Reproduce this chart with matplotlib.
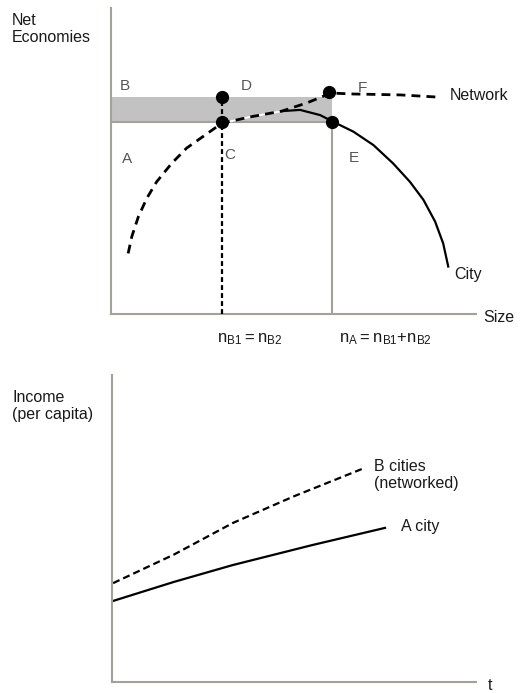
# two schematic panels: net economies vs size, income vs time
import numpy as np
import matplotlib.pyplot as plt

plt.rcParams['font.family'] = ['Liberation Sans', 'DejaVu Sans']

W, H = 529, 693

# top panel (size / net economies, 0..100 units)
network_x = [4.7, 5.7, 7.5, 9.8, 12.5, 16.6, 20.7, 25.8, 30.3, 38.1, 46.8, 53.7, 60.3, 66.3, 79.2, 89.3]
network_y = [19.8, 25.3, 31.8, 37.8, 43.2, 49.2, 54.2, 58.5, 62.3, 64.4, 66.3, 69.0, 72.2, 71.9, 71.6, 70.9]
city_x = [46.8, 51.8, 57.3, 60.9, 66.4, 71.9, 77.3, 81.9, 85.6, 88.8, 91.0, 92.4]
city_y = [66.3, 66.7, 65.0, 62.8, 59.6, 55.2, 49.2, 43.2, 37.3, 30.2, 23.1, 15.5]
n_b = 30.3
n_a = 60.5
level_city = 62.8
level_net = 70.9
points_x = [n_b, n_b, 59.8, n_a]
points_y = [level_net, level_city, 72.4, level_city]

# bottom panel (t / income, 0..100 units)
b_t = [0.3, 17.0, 33.2, 50.0, 68.7]
b_inc = [32.2, 41.5, 51.8, 60.5, 69.4]
a_t = [0.3, 17.0, 33.2, 55.0, 75.0]
a_inc = [26.4, 32.6, 38.1, 44.6, 50.2]

axis_col = '#a4a298'
fs = 11.5

fig = plt.figure(figsize=(W / 100, H / 100), dpi=100)


def px_axes(x0, y0, x1, y1):
    return fig.add_axes([x0 / W, 1 - y1 / H, (x1 - x0) / W, (y1 - y0) / H])


def ftext(x, y, s, size=fs, **kw):
    fig.text(x / W, 1 - y / H, s, fontsize=size, color='#1a1a1a', **kw)


# ---- top panel
ax = px_axes(111, 8, 476, 314)
ax.set_xlim(0, 100)
ax.set_ylim(0, 100)
ax.fill_between([0, n_a], level_city, level_net, color='#c2c2c2', lw=0, zorder=1)
ax.plot([0, n_a], [level_city, level_city], color=axis_col, lw=1.5, zorder=2)
ax.plot([n_a, n_a], [0, level_city], color=axis_col, lw=1.5, zorder=2)
ax.plot([n_b, n_b], [0, level_net], color='black', lw=1.6, ls=(0, (2.2, 1.4)), zorder=3)
ax.plot(network_x[:11], network_y[:11], color='white', lw=1.4, zorder=3)
ax.plot(network_x, network_y, color='black', lw=2, ls=(0, (3.2, 2.2)), zorder=4)
ax.plot(city_x, city_y, color='black', lw=1.6, zorder=4)
ax.plot(points_x, points_y, 'o', color='black', ms=8.5, zorder=5)

for s, x, y in [('B', 2.5, 74.5), ('D', 35.5, 74.5), ('F', 67.5, 73.8),
                ('A', 3.0, 50.5), ('C', 31.0, 52.0), ('E', 65.0, 51.0)]:
    ax.text(x, y, s, fontsize=11, color='#555555', va='center')

ax.text(92.8, 71.5, 'Network', fontsize=fs, color='#1a1a1a', va='center')
ax.text(94.0, 13.0, 'City', fontsize=fs, color='#1a1a1a', va='center')

for side in ['top', 'right']:
    ax.spines[side].set_visible(False)
for side in ['left', 'bottom']:
    ax.spines[side].set_color(axis_col)
    ax.spines[side].set_linewidth(1.5)
ax.set_xticks([])
ax.set_yticks([])
ax.patch.set_alpha(0)

ftext(12, 29, 'Net\nEconomies', va='center', linespacing=1.15)
ftext(483, 317, 'Size', va='center')
ftext(250, 339, r'$\mathregular{n_{B1}{=}n_{B2}}$', size=12, va='center', ha='center')
ftext(385, 339, r'$\mathregular{n_{A}{=}n_{B1}{+}n_{B2}}$', size=12, va='center', ha='center')

# ---- bottom panel
bx = px_axes(112, 375, 476, 682)
bx.set_xlim(0, 100)
bx.set_ylim(0, 100)
bx.plot(b_t, b_inc, color='black', lw=1.6, ls=(0, (3.2, 1.8)))
bx.plot(a_t, a_inc, color='black', lw=1.6)
bx.text(72.0, 67.4, 'B cities\n(networked)', fontsize=fs, color='#1a1a1a', va='center',
        linespacing=1.2)
bx.text(79.5, 50.5, 'A city', fontsize=fs, color='#1a1a1a', va='center')
for side in ['top', 'right']:
    bx.spines[side].set_visible(False)
for side in ['left', 'bottom']:
    bx.spines[side].set_color(axis_col)
    bx.spines[side].set_linewidth(1.5)
bx.set_xticks([])
bx.set_yticks([])

ftext(12, 406, 'Income\n(per capita)', va='center', linespacing=1.2)
ftext(488, 685, 't', va='center')

fig.savefig('out.png', dpi=100)
